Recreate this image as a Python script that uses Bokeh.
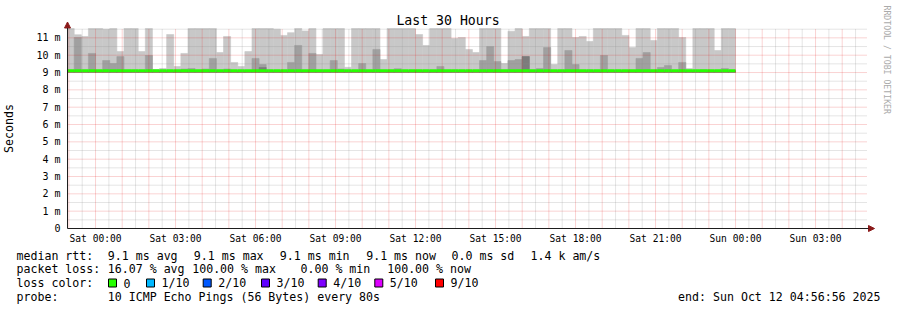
import math
from bokeh.plotting import figure
from bokeh.models import (Range1d, FixedTicker, Label, BoxAnnotation, Arrow,
                          NormalHead, ColumnDataSource)
from bokeh.embed import file_html
from bokeh.resources import INLINE

# ---------------- data (ms, hours relative to Sat 00:00) ----------------
y_top = 11.54       # top of the graph (smoke is clipped here)
F = y_top           # smoke reaching the top of the graph
M = 9.1             # no visible spread above the median

bin_minutes = 16    # consolidated step (12 x 80 s)
first_bin = -4      # index of first visible bin, counted from Sat 00:00
view_start_h = -1.05111   # Fri 22:56:56
view_end_h = 28.94889     # Sun 04:56:56

smoke_floor = 9.02

# outer (light) smoke top per bin, bins -4 .. 89
smoke_light = [
    F, 11.18, 11.08, F, F, 11.5, F, 10.21, F, F,          # -4 .. 5
    10.21, F, 9.17, 9.23, 11.19, 9.35, 10.1, F, F, F,     # 6 .. 15
    F, 10.15, 11.08, 9.58, 9.35, 10.21, F, F, F, 11.5,    # 16 .. 25
    11.14, 11.3, F, 11.4, F, 10.04, F, F, F, 9.3,         # 26 .. 35
    F, F, F, F, 9.75, F, F, F, F, 11.19,                  # 36 .. 45
    10.56, F, F, F, 10.96, 11.02, 10.33, 10.15, F, F,     # 46 .. 55
    F, 9.52, 11.38, F, 11.08, F, F, F, 9.46, F,           # 56 .. 65
    F, 11.02, 11.08, 10.79, F, F, F, F, 11.14, 10.44,     # 66 .. 75
    F, F, 10.85, F, F, F, 11.02, 9.23, F, F,              # 76 .. 85
    F, 10.27, F, F,                                       # 86 .. 89
]
# inner (darker) smoke top per bin
smoke_mid = [
    M, 11.02, M, 10.1, M, 9.69, 9.52, 9.92, M, M,
    M, 9.98, M, M, M, M, 9.2, 9.23, M, 9.2,
    9.81, M, 9.2, M, M, M, 9.81, 9.46, M, M,
    M, 9.58, 10.56, M, 10.1, M, M, 9.69, 9.2, M,
    M, 9.52, M, 10.33, M, M, 9.22, M, M, M,
    M, M, 9.35, M, M, M, M, M, 9.69, 10.5,
    9.63, M, 9.69, 9.75, 9.92, M, 9.23, 10.44, M, M,
    10.27, 9.46, M, M, M, 9.98, M, M, M, M,
    9.81, 10.15, M, 9.29, 9.4, M, 9.58, M, M, 9.15,
    M, M, 9.23, M,
]
# core (darkest) smoke top per bin
smoke_core = [
    M, M, M, M, M, M, M, M, M, M,
    M, M, M, M, M, M, M, M, M, M,
    M, M, M, M, M, M, M, 9.29, M, M,
    M, M, M, M, M, M, M, M, M, M,
    M, M, M, M, M, M, M, M, M, M,
    M, M, M, M, M, M, M, M, M, M,
    M, M, M, M, 9.92, M, M, M, M, M,
    M, M, M, M, M, M, M, M, M, M,
    M, M, M, M, M, M, M, M, M, M,
    M, M, M, M,
]
median_rtt = [9.1] * len(smoke_light)
loss_tenths = [0] * len(smoke_light)

loss_levels = ["0", "1/10", "2/10", "3/10", "4/10", "5/10", "9/10"]
loss_colors = ["#26ff00", "#00b8ff", "#0059ff", "#5e00ff", "#7e00ff", "#dd00ff", "#ff0000"]
loss_steps = [0, 1, 2, 3, 4, 5, 9]

x_tick_hours = [0, 3, 6, 9, 12, 15, 18, 21, 24, 27]
x_tick_labels = ["Sat 00:00", "Sat 03:00", "Sat 06:00", "Sat 09:00", "Sat 12:00",
                 "Sat 15:00", "Sat 18:00", "Sat 21:00", "Sun 00:00", "Sun 03:00"]
y_ticks = list(range(0, 12))
y_tick_labels = ["0"] + ["%d m" % v for v in range(1, 12)]

# ---------------- figure: frame covers the whole canvas ----------------
W, H = 897, 310
GL, GR, GT, GB = 67, 867, 28, 228          # graph area in canvas pixels
ppx = (GR - GL) / (view_end_h - view_start_h)   # pixels per hour
ppy = (GB - GT) / y_top                          # pixels per ms
x0 = view_start_h - GL / ppx
x1 = view_end_h + (W - GR) / ppx
y0 = -(H - GB) / ppy
y1 = y_top + GT / ppy

p = figure(width=W, height=H, output_backend="svg", toolbar_location=None,
           x_range=Range1d(x0, x1), y_range=Range1d(y0, y1),
           min_border=0, min_border_left=0, min_border_right=0,
           min_border_top=0, min_border_bottom=0)
p.title = None
p.background_fill_color = "#ffffff"
p.border_fill_color = "#ffffff"
p.outline_line_color = None
p.xgrid.visible = False
p.ygrid.visible = False

n = len(smoke_light)
step_h = bin_minutes / 60.0
lefts = [(first_bin + i) * step_h for i in range(n)]
rights = [l + step_h for l in lefts]
lefts[0] = max(lefts[0], view_start_h)

def color_for(l):
    idx = max(i for i, s in enumerate(loss_steps) if s <= l)
    return loss_colors[idx]

src = ColumnDataSource(dict(left=lefts, right=rights, light=smoke_light,
                            mid=smoke_mid, core=smoke_core, med=median_rtt,
                            col=[color_for(l) for l in loss_tenths]))

p.quad(left="left", right="right", bottom=smoke_floor, top="light", source=src,
       fill_color="#c8c8c8", line_color="#c8c8c8", line_width=0.6)
p.quad(left="left", right="right", bottom=smoke_floor, top="mid", source=src,
       fill_color="#a0a0a0", line_color="#a0a0a0", line_width=0.6)
p.quad(left="left", right="right", bottom=smoke_floor, top="core", source=src,
       fill_color="#7c7c7c", line_color="#7c7c7c", line_width=0.6)
p.segment(x0="left", y0="med", x1="right", y1="med", source=src,
          line_color="col", line_width=3, line_cap="butt")

# ---------------- grid (drawn on top, like rrdtool) ----------------
hours_major = [h for h in range(-1, 29)]
hours_minor = [h + 0.5 for h in range(-2, 29) if view_start_h < h + 0.5 < view_end_h]
ms_major = list(range(1, 12))
ms_minor = [v + 0.5 for v in range(0, 12) if v + 0.5 < y_top]

def vlines(xs, color, alpha):
    p.segment(x0=xs, x1=xs, y0=[0] * len(xs), y1=[y_top] * len(xs),
              line_color=color, line_alpha=alpha, line_width=1, line_dash="1 1")

def hlines(ys, color, alpha):
    p.segment(x0=[view_start_h] * len(ys), x1=[view_end_h] * len(ys), y0=ys, y1=ys,
              line_color=color, line_alpha=alpha, line_width=1, line_dash="1 1")

vlines(hours_minor, "#8c8c8c", 0.45)
hlines(ms_minor, "#8c8c8c", 0.45)
vlines(hours_major, "#e00000", 0.35)
hlines(ms_major, "#e00000", 0.35)

# ---------------- axes at fixed locations ----------------
MONO = "DejaVu Sans Mono"
p.xaxis.fixed_location = 0
p.xaxis.bounds = (view_start_h, view_end_h)
p.yaxis.fixed_location = view_start_h
p.yaxis.bounds = (0, y_top)
p.xaxis.ticker = FixedTicker(ticks=x_tick_hours, minor_ticks=[])
p.xaxis.major_label_overrides = {h: s for h, s in zip(x_tick_hours, x_tick_labels)}
p.yaxis.ticker = FixedTicker(ticks=y_ticks, minor_ticks=[])
p.yaxis.major_label_overrides = {v: s for v, s in zip(y_ticks, y_tick_labels)}
for ax in (p.xaxis, p.yaxis):
    ax.major_tick_line_color = None
    ax.minor_tick_line_color = None
    ax.major_tick_out = 0
    ax.major_tick_in = 0
    ax.axis_line_color = "#1e1e1e"
    ax.major_label_text_font = MONO
    ax.major_label_text_color = "#000000"
p.xaxis.major_label_text_font_size = "9.6px"
p.xaxis.major_label_standoff = 4
p.yaxis.major_label_text_font_size = "10px"
p.yaxis.major_label_standoff = 7
p.yaxis.axis_label = "Seconds"
p.yaxis.axis_label_text_font = MONO
p.yaxis.axis_label_text_font_size = "11.6px"
p.yaxis.axis_label_text_font_style = "normal"
p.yaxis.axis_label_text_color = "#000000"
p.yaxis.axis_label_standoff = 17

arrow_col = "#8b1a1a"
p.add_layout(Arrow(end=NormalHead(size=6, fill_color=arrow_col, line_color=arrow_col),
                   x_start=view_start_h, y_start=y_top - 0.1,
                   x_end=view_start_h, y_end=y_top + 6.5 / ppy,
                   line_color="#1e1e1e", line_width=1))
p.add_layout(Arrow(end=NormalHead(size=6, fill_color=arrow_col, line_color=arrow_col),
                   x_start=view_end_h - 0.1, y_start=0,
                   x_end=view_end_h + 7.0 / ppx, y_end=0,
                   line_color="#1e1e1e", line_width=1))

# ---------------- texts ----------------
def txt(px, py, s, size="11.6px", align="left", color="#000000", angle=0.0):
    p.add_layout(Label(x=px, y=H - py, x_units="screen", y_units="screen",
                       text=s, text_font=MONO, text_font_size=size,
                       text_align=align, text_baseline="middle",
                       text_color=color, angle=angle))

txt(447.5, 20, "Last 30 Hours", size="13.2px", align="center")
txt(886, 5, "RRDTOOL / TOBI OETIKER", size="8.2px", color="#aaaaaa", angle=-math.pi / 2)

r1, r2, r3, r4 = 255, 268.5, 282.5, 296.5
txt(16, r1, "median rtt:")
for x, s in [(107.3, "9.1 ms avg"), (193.3, "9.1 ms max"), (279.3, "9.1 ms min"),
             (365.7, "9.1 ms now"), (451, "0.0 ms sd"), (530, "1.4 k am/s")]:
    txt(x, r1, s)

txt(16, r2, "packet loss:")
for x, s in [(107.3, "16.07 % avg"), (191.7, "100.00 % max"), (300, "0.00 % min"),
             (386.7, "100.00 % now")]:
    txt(x, r2, s)

txt(16, r3, "loss color:")
sq_x = [108, 146, 202.7, 261, 317.7, 374.3, 435]
for x, lab, col in zip(sq_x, loss_levels, loss_colors):
    p.add_layout(BoxAnnotation(left=x, right=x + 8,
                               top=H - (r3 - 4), bottom=H - (r3 + 4),
                               left_units="screen", right_units="screen",
                               top_units="screen", bottom_units="screen",
                               fill_color=col, fill_alpha=1.0,
                               line_color="#000000", line_width=1, line_alpha=1.0))
    txt(x + 15, r3, lab)

txt(16, r4, "probe:")
txt(107.3, r4, "10 ICMP Echo Pings (56 Bytes) every 80s")
txt(880, r4, "end: Sun Oct 12 04:56:56 2025", align="right")

open("out.html", "w").write(file_html(p, INLINE))
